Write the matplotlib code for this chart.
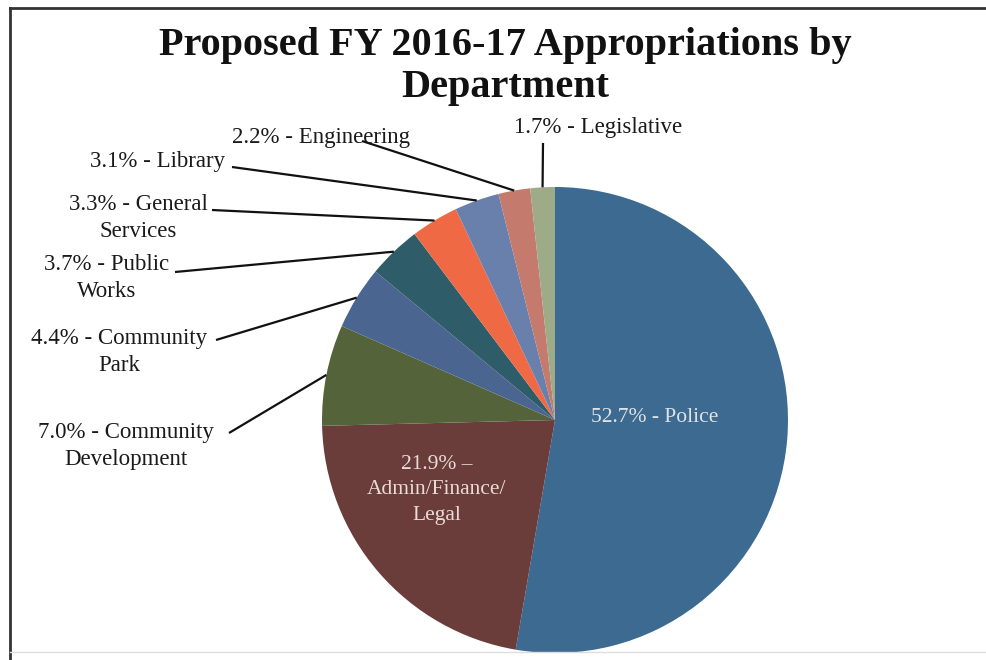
import matplotlib
matplotlib.use("Agg")
import matplotlib.pyplot as plt
import numpy as np

W, H = 987, 660

departments = ["Police", "Admin/Finance/Legal", "Community Development", "Community Park",
               "Public Works", "General Services", "Library", "Engineering", "Legislative"]
shares = [52.7, 21.9, 7.0, 4.4, 3.7, 3.3, 3.1, 2.2, 1.7]
colors = ["#3d6a91", "#6a3c3a", "#55633a", "#4a6690", "#2e5c68",
          "#ef6a44", "#6a80ac", "#c47a6c", "#9eab88"]

inside_labels = {0: "52.7% - Police", 1: "21.9% \u2013\nAdmin/Finance/\nLegal"}
outside_labels = {
    2: "7.0% - Community\nDevelopment",
    3: "4.4% - Community\nPark",
    4: "3.7% - Public\nWorks",
    5: "3.3% - General\nServices",
    6: "3.1% - Library",
    7: "2.2% - Engineering",
    8: "1.7% - Legislative",
}

# layout (pixel coords, y from top)
CX, CY, R = 555, 420, 233
inside_pos = {0: (655, 418), 1: (437, 490)}
label_pos = {2: (126, 446), 3: (119, 352), 4: (107, 278), 5: (138, 218),
             6: (158, 162), 7: (321, 137), 8: (598, 128)}
leader_start = {2: (229, 433), 3: (216, 340), 4: (175, 272), 5: (212, 210),
                6: (232, 167), 7: (362, 141), 8: (543, 143)}

SERIF = ["Liberation Serif", "DejaVu Serif"]


def fy(py):
    return H - py


fig = plt.figure(figsize=(W / 100, H / 100), dpi=100)
ax = fig.add_axes([0, 0, 1, 1])

wedges, _ = ax.pie(shares, colors=colors, startangle=90, counterclock=False,
                   center=(CX, fy(CY)), radius=R, frame=True,
                   wedgeprops=dict(linewidth=0))
ax.set_xlim(0, W)
ax.set_ylim(0, H)
ax.axis("off")

for i, txt in inside_labels.items():
    x, y = inside_pos[i]
    ax.text(x, fy(y), txt, ha="center", va="center", fontsize=15.5, family=SERIF,
            color="#dfe3e6" if i == 0 else "#eadcd4", linespacing=1.45)

for i, txt in outside_labels.items():
    x, y = label_pos[i]
    ax.text(x, fy(y), txt, ha="center", va="center", fontsize=16.5, family=SERIF,
            color="#1a1a1a", linespacing=1.38)
    w = wedges[i]
    mid = np.deg2rad((w.theta1 + w.theta2) / 2)
    ex = CX + R * np.cos(mid)
    ey = fy(CY) + R * np.sin(mid)
    sx, sy = leader_start[i]
    ax.plot([sx, ex], [fy(sy), ey], color="#111111", lw=1.6, solid_capstyle="butt")

ax.text(505, fy(45), "Proposed FY 2016-17 Appropriations by", ha="center", va="center",
        fontsize=29, fontweight="bold", family=SERIF, color="#111111")
ax.text(505, fy(87), "Department", ha="center", va="center",
        fontsize=29, fontweight="bold", family=SERIF, color="#111111")

# frame lines
ax.plot([10, W], [fy(8), fy(8)], color="#333333", lw=2)
ax.plot([10, 10], [fy(8), 0], color="#333333", lw=2)
ax.plot([10, W], [fy(652), fy(652)], color="#dddddd", lw=1)

fig.savefig("out.png", dpi=100, facecolor="white")
